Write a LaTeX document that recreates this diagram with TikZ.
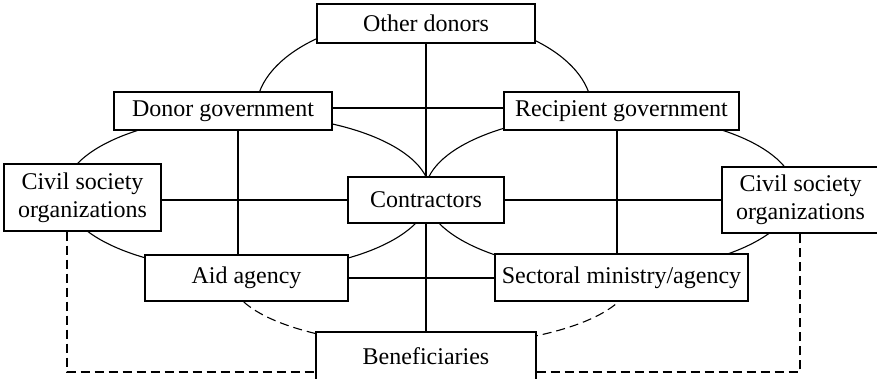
\documentclass[tikz,border=0pt]{standalone}
\usepackage{fontspec}
\setmainfont{Liberation Serif}
\usetikzlibrary{positioning}

\begin{document}
\begin{tikzpicture}[%
    x=1pt, y=1pt,
    line width=1.1pt,
    on grid,
    box/.style={draw, fill=white, inner sep=0pt, align=center,
      font=\fontsize{24}{28}\selectfont},
    link/.style={dash pattern=on 9pt off 5pt}
  ]
  \useasboundingbox (0,0) rectangle (877,-379);

  % rings behind the boxes
  \draw (247,-193) ellipse [x radius=183, y radius=78];
  \draw (610,-193) ellipse [x radius=185, y radius=79];
  \draw (256,-111) arc [start angle=180, end angle=0, x radius=168, y radius=94];
  \draw[link] (231,-278) arc [start angle=180, end angle=360, x radius=200, y radius=68];

  \node[box, minimum width=156pt, minimum height=46pt] (con) at (426,-200) {Contractors};
  \node[box, minimum width=218pt, minimum height=39pt] (od) [above=176.5pt of con] {Other donors};
  \node[box, minimum width=218pt, minimum height=38pt] (dg) [above left=89pt and 203pt of con] {Donor government};
  \node[box, minimum width=235pt, minimum height=38pt] (rg) [above right=89pt and 195.5pt of con] {Recipient government};
  \node[box, minimum width=157pt, minimum height=67pt] (csl) [above left=2.5pt and 343.5pt of con] {Civil society\\organizations};
  \node[box, minimum width=157pt, minimum height=66pt] (csr) [right=374.5pt of con] {Civil society\\organizations};
  \node[box, minimum width=203pt, minimum height=46pt] (aid) [below left=78pt and 179.5pt of con] {Aid agency};
  \node[box, minimum width=253pt, minimum height=47pt] (sec) [below right=77.5pt and 195.5pt of con] {Sectoral ministry/agency};
  \node[box, minimum width=220pt, minimum height=49pt] (ben) [below=156.5pt of con] {Beneficiaries};

  \draw (od) -- (con);
  \draw (con) -- (ben);
  \draw ([yshift=3pt]dg.east) -- ([yshift=3pt]rg.west);
  \draw ([xshift=15pt]dg.south) -- ([xshift=15pt]dg.south |- aid.north);
  \draw ([xshift=-4.5pt]rg.south) -- ([xshift=-4.5pt]rg.south |- sec.north);
  \draw (con.west) -- (con.west -| csl.east);
  \draw (con.east) -- (con.east -| csr.west);
  \draw (aid.east) -- (aid.east -| sec.west);

  \draw[link] ([xshift=-15.5pt]csl.south) |- ([yshift=-15.5pt]ben.west);
  \draw[link] ([yshift=-15.5pt]ben.east) -| ([xshift=-0.5pt]csr.south);
\end{tikzpicture}
\end{document}
